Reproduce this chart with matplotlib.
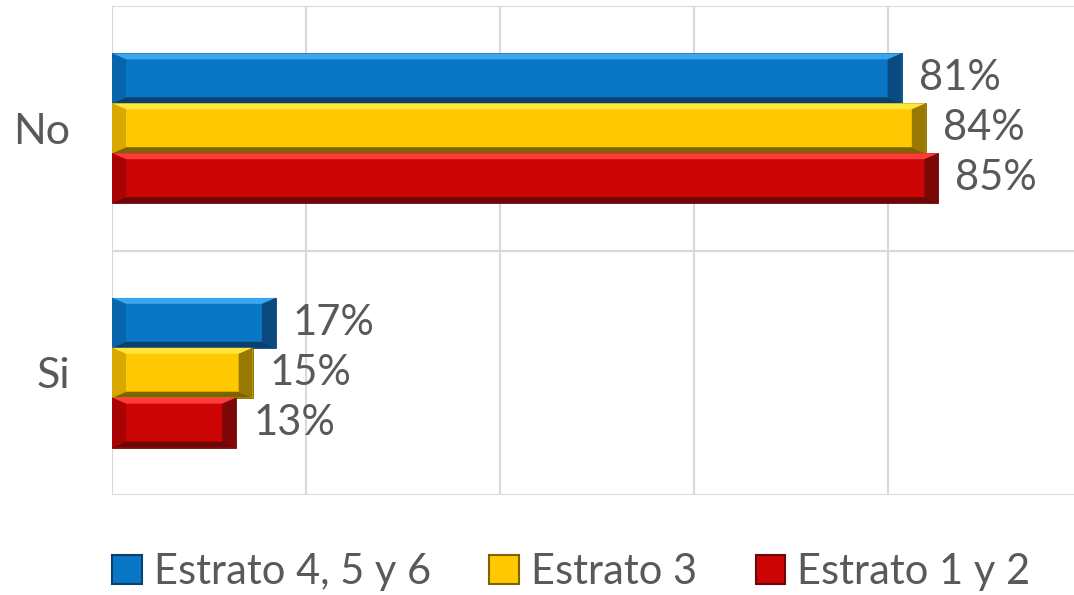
import matplotlib
matplotlib.use("Agg")
import matplotlib.pyplot as plt
from matplotlib.patches import Polygon, Rectangle
import numpy as np

categories = ["No", "Si"]
series_names = ["Estrato 4, 5 y 6", "Estrato 3", "Estrato 1 y 2"]
values = {
    "Estrato 4, 5 y 6": [0.814, 0.169],
    "Estrato 3": [0.839, 0.145],
    "Estrato 1 y 2": [0.852, 0.128],
}
labels = {
    "Estrato 4, 5 y 6": ["81%", "17%"],
    "Estrato 3": ["84%", "15%"],
    "Estrato 1 y 2": ["85%", "13%"],
}
base_colors = {"Estrato 4, 5 y 6": "#0A76C6", "Estrato 3": "#FFC800", "Estrato 1 y 2": "#CC0404"}
light_colors = {"Estrato 4, 5 y 6": "#3AA6EE", "Estrato 3": "#FFE63A", "Estrato 1 y 2": "#FF3C3C"}
dark_colors = {"Estrato 4, 5 y 6": "#0B3F6E", "Estrato 3": "#7E6400", "Estrato 1 y 2": "#6A0808"}
side_dark = {"Estrato 4, 5 y 6": "#0965AA", "Estrato 3": "#D8A800", "Estrato 1 y 2": "#A80404"}

W, H = 1074, 595
fig = plt.figure(figsize=(W / 100, H / 100), dpi=100)
ax_left, ax_right, ax_top, ax_bottom = 112, 1074, 6, 495
ax = fig.add_axes([ax_left / W, 1 - ax_bottom / H, (ax_right - ax_left) / W, (ax_bottom - ax_top) / H])

xmax = (ax_right - ax_left) / 970.0
ax.set_xlim(0, xmax)
ax.set_ylim(len(categories) - 0.5, -0.5)

font = ["Lato", "DejaVu Sans"]
fw = "normal"
txt_color = "#595959"
grid_color = "#D9D9D9"

# gridlines
for gx in np.arange(0.2, xmax, 0.2):
    ax.axvline(gx, color=grid_color, lw=1.5, zorder=0)
for gy in np.arange(-0.5, len(categories), 1.0):
    ax.axhline(gy, color=grid_color, lw=1.5, zorder=0)
ax.axvline(0, color=grid_color, lw=1.5, zorder=0)

for s in ax.spines.values():
    s.set_visible(False)
ax.set_xticks([])
ax.set_yticks(range(len(categories)))
ax.set_yticklabels(categories, fontsize=31, color=txt_color, family=font, weight=fw)
ax.tick_params(axis="y", length=0, pad=30)

bar_h = 50 / 245.0
px_x = 970.0  # px per data unit x
px_y = 245.0  # px per data unit y
bev_x = 14 / px_x
bev_y = 6 / px_y

y = np.arange(len(categories))
for i, name in enumerate(series_names):
    offs = (i - 1) * bar_h
    bars = ax.barh(y + offs, values[name], height=bar_h, color=base_colors[name],
                   edgecolor=dark_colors[name], linewidth=0.6, zorder=2)
    for b, lab in zip(bars, labels[name]):
        x0, y0 = b.get_x(), b.get_y()
        w, h = b.get_width(), b.get_height()
        x1, y1 = x0 + w, y0 + h  # y1 is lower on screen (inverted)
        top = Polygon([(x0, y0), (x1, y0), (x1 - bev_x, y0 + bev_y), (x0 + bev_x, y0 + bev_y)],
                      closed=True, color=light_colors[name], lw=0, zorder=3)
        bot = Polygon([(x0, y1), (x1, y1), (x1 - bev_x, y1 - bev_y), (x0 + bev_x, y1 - bev_y)],
                      closed=True, color=dark_colors[name], lw=0, zorder=3)
        lft = Polygon([(x0, y0), (x0 + bev_x, y0 + bev_y), (x0 + bev_x, y1 - bev_y), (x0, y1)],
                      closed=True, color=side_dark[name], lw=0, zorder=3)
        rgt = Polygon([(x1, y0), (x1 - bev_x, y0 + bev_y), (x1 - bev_x, y1 - bev_y), (x1, y1)],
                      closed=True, color=dark_colors[name], lw=0, zorder=3, alpha=0.8)
        for p in (top, bot, lft, rgt):
            ax.add_patch(p)
        ax.text(x1 + 17 / px_x, y0 + h / 2, lab, va="center", ha="left",
                fontsize=30, color=txt_color, family=font, weight=fw, zorder=4)

# legend
handles = [Rectangle((0, 0), 1, 1, facecolor=base_colors[n], edgecolor=dark_colors[n], lw=1.5)
           for n in series_names]
leg = fig.legend(handles, series_names, loc="center", bbox_to_anchor=(0.532, 1 - 572 / H),
                 ncol=3, frameon=False, prop={"family": font, "size": 30, "weight": fw},
                 handlelength=0.7, handleheight=0.7, handletextpad=0.3, columnspacing=1.4)
for t in leg.get_texts():
    t.set_color(txt_color)

fig.savefig("out.png", dpi=100)
